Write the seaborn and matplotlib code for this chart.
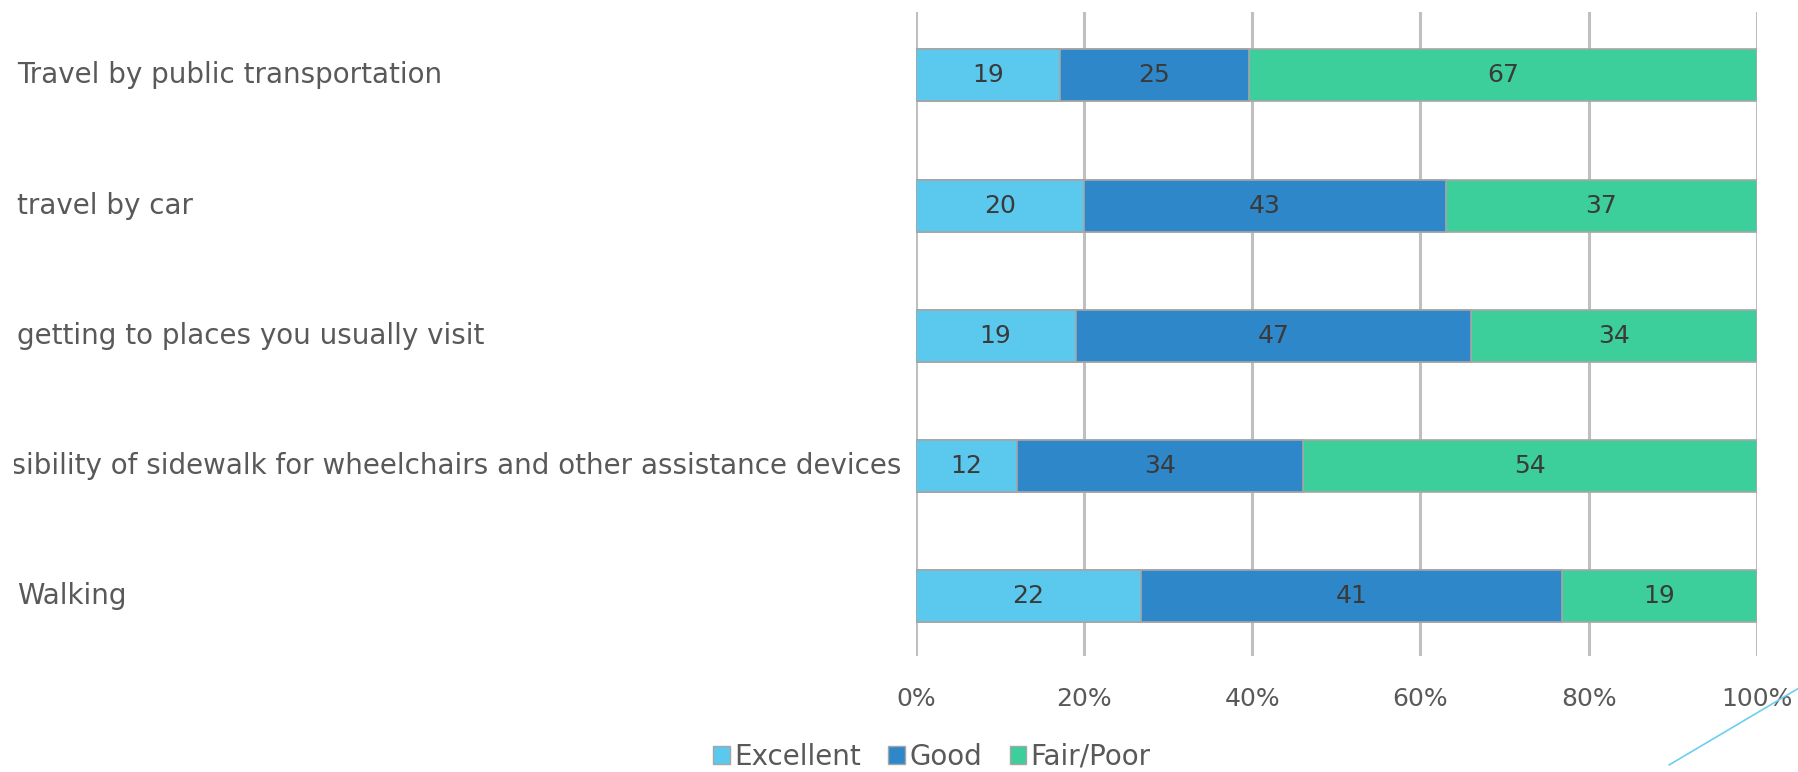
import numpy as np
import pandas as pd
import seaborn as sns
import matplotlib.pyplot as plt
from matplotlib.lines import Line2D
from matplotlib.transforms import Bbox

categories = ["Travel by public transportation",
              "travel by car",
              "getting to places you usually visit",
              "Accessibility of sidewalk for wheelchairs and other assistance devices",
              "Walking"]
excellent = [19, 20, 19, 12, 22]
good = [25, 43, 47, 34, 41]
fair_poor = [67, 37, 34, 54, 19]
series = ["Excellent", "Good", "Fair/Poor"]
colors = ["#5BC8EE", "#2E87C9", "#3DCF9B"]

df = pd.DataFrame({"category": categories, "Excellent": excellent,
                   "Good": good, "Fair/Poor": fair_poor})
tot = df[series].sum(axis=1)
pct = df[series].div(tot, axis=0) * 100
cum = pct.cumsum(axis=1)

sns.set_theme(style="white")
plt.rcParams["font.family"] = ["DejaVu Sans"]

fig = plt.figure(figsize=(17.99, 7.72), dpi=100)
ax = fig.add_axes([0.509, 0.150, 0.4676, 0.835])

# draw cumulative layers from the widest down
for s, c in zip(series[::-1], colors[::-1]):
    sns.barplot(x=cum[s], y=df["category"], color=c, orient="h", width=0.4,
                saturation=1, edgecolor="#A6A6A6", linewidth=1.2, ax=ax, zorder=3)

# segment value labels
for i in range(len(df)):
    left = 0
    for s in series:
        w = pct.loc[i, s]
        ax.text(left + w / 2, i, str(df.loc[i, s]), ha="center", va="center",
                fontsize=18, color="#3A3A3A", zorder=4)
        left += w

ax.set_xlim(0, 100)
ax.set_ylim(4.46, -0.49)
ax.set_xticks(range(0, 101, 20))
ax.set_xticklabels([f"{t}%" for t in range(0, 101, 20)], fontsize=18, color="#595959")
ax.tick_params(axis="x", length=0, pad=22)
ax.xaxis.grid(True, color="#BFBFBF", linewidth=2.2, zorder=0)
ax.set_axisbelow(True)
ax.set_yticks([])
ax.set_xlabel("")
ax.set_ylabel("")
for sp in ax.spines.values():
    sp.set_visible(False)

# category labels: left aligned; the long one is right aligned against the
# axis and clipped at the label column's left edge, as in the original slide
fig.canvas.draw()
renderer = fig.canvas.get_renderer()
ax_left_px = ax.get_window_extent().x0
label_clip = Bbox.from_extents(14, 0, ax_left_px, fig.bbox.height)
for i, cat in enumerate(categories):
    y_fig = ax.transData.transform((0, i))[1] / fig.bbox.height
    t = fig.text(17 / 1799, y_fig, cat, ha="left", va="center",
                 fontsize=20, color="#595959")
    if t.get_window_extent(renderer).x1 > ax_left_px - 10:
        t.set_ha("right")
        t.set_x((ax_left_px - 14) / 1799)
        t.set_clip_on(True)
        t.set_clip_box(label_clip)

handles = [plt.Rectangle((0, 0), 1, 1, facecolor=c, edgecolor="#A6A6A6") for c in colors]
fig.legend(handles, series, loc="center", bbox_to_anchor=(0.518, 0.02), ncol=3,
           frameon=False, fontsize=20, handlelength=0.6, handleheight=0.6,
           handletextpad=0.15, columnspacing=1.0, labelcolor="#595959")

fig.add_artist(Line2D([1669 / 1799, 1.0], [1 - 765 / 772, 1 - 688 / 772],
                      transform=fig.transFigure, color="#6CCFF0", linewidth=1.2))

fig.savefig("out.png", dpi=100)
